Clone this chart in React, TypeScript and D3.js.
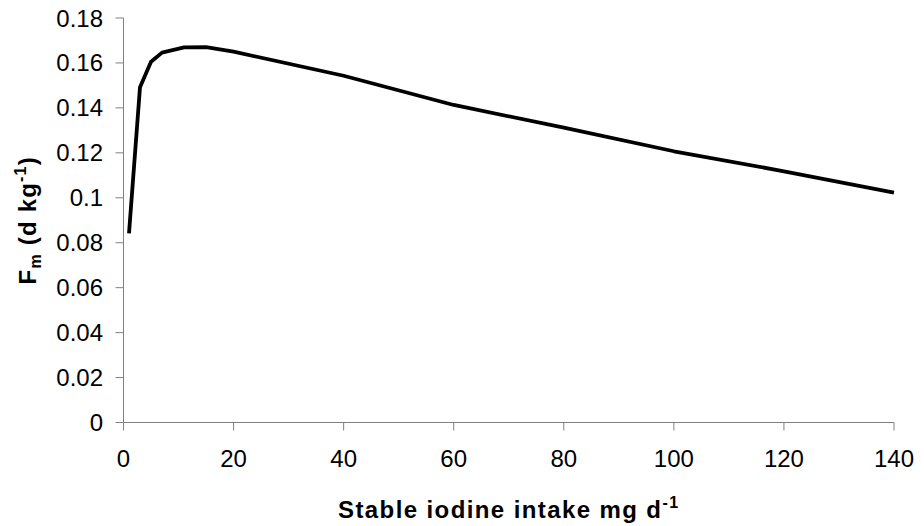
import React from "react";
import * as d3 from "d3";

const intake = [1, 3, 5, 7, 11, 15, 20, 40, 60, 80, 100, 120, 140];
const fm = [0.0842, 0.1492, 0.1605, 0.1646, 0.1669, 0.167, 0.165, 0.1543, 0.1413, 0.1312, 0.1207, 0.1118, 0.1023];
const xTicks = [0, 20, 40, 60, 80, 100, 120, 140];
const yTicks = [0, 0.02, 0.04, 0.06, 0.08, 0.1, 0.12, 0.14, 0.16, 0.18];

export default function App() {
  const W = 924, H = 526;
  const x = d3.scaleLinear().domain([0, 140]).range([123.5, 894]);
  const y = d3.scaleLinear().domain([0, 0.18]).range([422.5, 18]);
  const pts: [number, number][] = intake.map((v, i) => [v, fm[i]]);
  const line = d3.line<[number, number]>().x(d => x(d[0])).y(d => y(d[1]));
  const font = "'Liberation Sans', Arial, sans-serif";
  const axisColor = "#808080";
  return (
    <svg width={W} height={H} style={{ position: "absolute", left: 0, top: 0, background: "#fff" }}>
      <rect width={W} height={H} fill="#fff" />
      <line x1={x(0)} x2={x(140)} y1={y(0)} y2={y(0)} stroke={axisColor} strokeWidth={1} />
      <line x1={x(0)} x2={x(0)} y1={y(0)} y2={y(0.18)} stroke={axisColor} strokeWidth={1} />
      {yTicks.map(t => (
        <g key={"y" + t}>
          <line x1={x(0) - 8} x2={x(0)} y1={y(t)} y2={y(t)} stroke={axisColor} strokeWidth={1} />
          <text x={103} y={y(t) + 8.5} textAnchor="end" fontFamily={font} fontSize={24} fill="#000">{String(t)}</text>
        </g>
      ))}
      {xTicks.map(t => (
        <g key={"x" + t}>
          <line x1={x(t)} x2={x(t)} y1={y(0)} y2={y(0) + 8} stroke={axisColor} strokeWidth={1} />
          <text x={x(t)} y={467} textAnchor="middle" fontFamily={font} fontSize={24} fill="#000">{String(t)}</text>
        </g>
      ))}
      <path d={line(pts) || ""} fill="none" stroke="#000" strokeWidth={3.8} strokeLinejoin="round" />
      <text x={(x(0) + x(140)) / 2} y={518} textAnchor="middle" fontFamily={font} fontSize={24} fontWeight="bold" letterSpacing={1.4} fill="#000">
        Stable iodine intake mg d<tspan dy={-10} fontSize={16}>-1</tspan>
      </text>
      <text transform={`translate(36, ${(y(0) + y(0.18)) / 2}) rotate(-90)`} textAnchor="middle" fontFamily={font} fontSize={24} fontWeight="bold" letterSpacing={1.2} fill="#000">
        F<tspan dy={5} fontSize={16}>m</tspan><tspan dy={-5}> (d kg</tspan><tspan dy={-10} fontSize={16}>-1</tspan><tspan dy={10}>)</tspan>
      </text>
    </svg>
  );
}
